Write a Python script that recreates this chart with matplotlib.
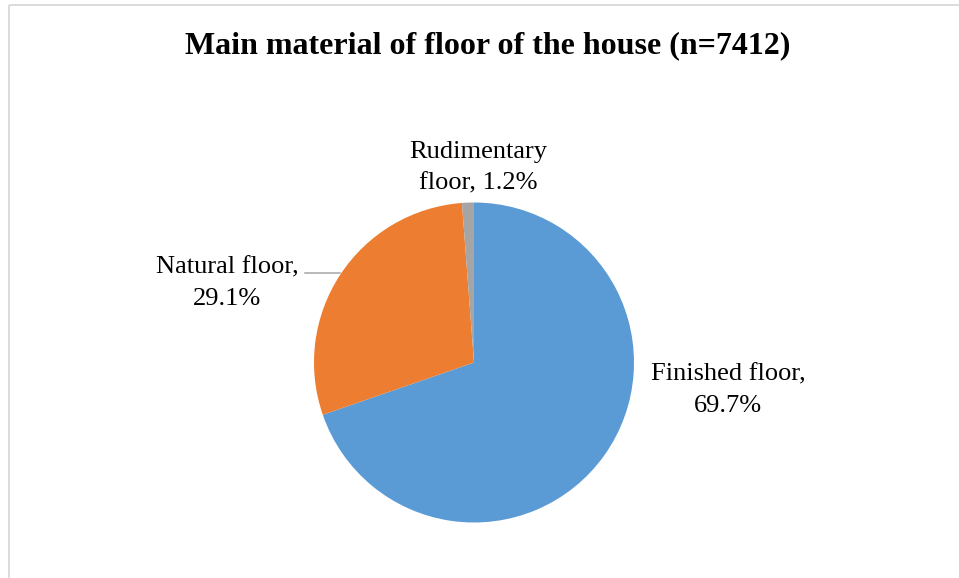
import matplotlib
matplotlib.use("Agg")
import matplotlib.pyplot as plt

# data
categories = ["Finished floor", "Natural floor", "Rudimentary floor"]
shares = [69.7, 29.1, 1.2]
colors = ["#5B9BD5", "#ED7D31", "#A5A5A5"]
title = "Main material of floor of the house (n=7412)"

W, H = 959, 578
plt.rcParams['font.family'] = ['Liberation Serif', 'DejaVu Serif']

fig = plt.figure(figsize=(W / 100, H / 100), dpi=100)
ax = fig.add_axes([0, 0, 1, 1])


def py(y):
    # pixel row (from top) -> data y
    return H - y


ax.pie(shares, colors=colors, startangle=90, counterclock=False,
       center=(474, py(362.5)), radius=160,
       wedgeprops=dict(linewidth=0))

# frame of the chart area (cropped on right and bottom)
ax.plot([9, 9], [py(4.5), py(H)], color="#D9D9D9", lw=1.3, solid_capstyle='butt')
ax.plot([9, W], [py(4.5), py(4.5)], color="#D9D9D9", lw=1.3, solid_capstyle='butt')

ax.text(488, py(46), title, ha='center', va='center', fontsize=23, fontweight='bold')

labels = [f"{c},\n{s}%" for c, s in zip(categories, shares)]
labels[2] = "Rudimentary\nfloor, 1.2%"
label_pos = [(728, 390), (227, 283), (478, 168)]
for lab, (x, y) in zip(labels, label_pos):
    ax.text(x, py(y), lab, ha='center', va='center', fontsize=19, linespacing=1.55)

# leader line for the natural floor label
ax.plot([305, 340], [py(273), py(273)], color="#A6A6A6", lw=1.1)

ax.set_xlim(0, W)
ax.set_ylim(0, H)
ax.set_aspect('equal')
ax.axis('off')

fig.savefig("out.png", dpi=100)
